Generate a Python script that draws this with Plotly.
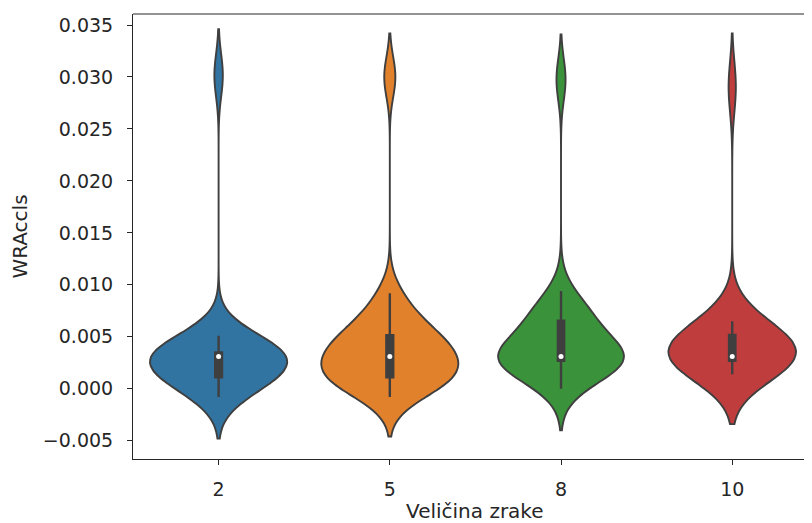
import numpy as np
import plotly.graph_objects as go

categories = ["2", "5", "8", "10"]

vals_2 = [-0.0008, -0.0004, -0.0001, 0.0002, 0.0004, 0.0006, 0.0007, 0.0008, 0.0009, 0.0010,
          0.0011, 0.0011, 0.0013, 0.0015, 0.0017, 0.0019, 0.0021, 0.0023, 0.0025, 0.0027,
          0.0029, 0.0031, 0.0032, 0.0032, 0.0033, 0.0033, 0.0033, 0.0034, 0.0034, 0.0034,
          0.0035, 0.0035, 0.0035, 0.0037, 0.0039, 0.0041, 0.0043, 0.0046, 0.0048, 0.0049,
          0.0051, 0.0297, 0.0306]

vals_5 = [-0.0008, -0.0004, -0.0001, 0.0002, 0.0004, 0.0006, 0.0007, 0.0008, 0.0009, 0.0010,
          0.0011, 0.0011, 0.0013, 0.0015, 0.0017, 0.0019, 0.0022, 0.0024, 0.0026, 0.0028,
          0.0030, 0.0031, 0.0033, 0.0035, 0.0037, 0.0039, 0.0041, 0.0043, 0.0045, 0.0047,
          0.0049, 0.0050, 0.0052, 0.0055, 0.0058, 0.0062, 0.0067, 0.0073, 0.0081, 0.0086,
          0.0092, 0.0296, 0.0304]

vals_8 = [0.0000, 0.0005, 0.0009, 0.0013, 0.0016, 0.0019, 0.0021, 0.0023, 0.0025, 0.0026,
          0.0027, 0.0027, 0.0028, 0.0028, 0.0029, 0.0029, 0.0029, 0.0030, 0.0030, 0.0030,
          0.0031, 0.0031, 0.0032, 0.0034, 0.0036, 0.0039, 0.0042, 0.0046, 0.0050, 0.0055,
          0.0060, 0.0064, 0.0066, 0.0067, 0.0069, 0.0071, 0.0073, 0.0076, 0.0080, 0.0086,
          0.0094, 0.0294, 0.0301]

vals_10 = [0.0014, 0.0016, 0.0018, 0.0020, 0.0022, 0.0023, 0.0024, 0.0025, 0.0026, 0.0026,
           0.0027, 0.0027, 0.0028, 0.0028, 0.0029, 0.0029, 0.0029, 0.0030, 0.0030, 0.0030,
           0.0031, 0.0031, 0.0033, 0.0035, 0.0037, 0.0039, 0.0041, 0.0043, 0.0045, 0.0047,
           0.0049, 0.0051, 0.0052, 0.0054, 0.0056, 0.0058, 0.0059, 0.0060, 0.0062, 0.0063,
           0.0065, 0.0287, 0.0294]

y_tick_vals = [-0.005, 0.000, 0.005, 0.010, 0.015, 0.020, 0.025, 0.030, 0.035]
y_tick_text = ["\u22120.005", "0.000", "0.005", "0.010", "0.015", "0.020", "0.025", "0.030", "0.035"]

x_title = "Veličina zrake"
y_title = "WRAccls"

series = [vals_2, vals_5, vals_8, vals_10]
colors = ["#3274a1", "#e1812c", "#3a923a", "#c03d3e"]
bandwidths = [0.0020, 0.0019, 0.0020, 0.0024]
widths = [0.80, 0.80, 0.735, 0.745]

EDGE = "#3f3f3f"
TEXT = "#262626"
FONT = "DejaVu Sans"

fig = go.Figure()
for cat, vals, col, bw, w in zip(categories, series, colors, bandwidths, widths):
    fig.add_trace(go.Violin(
        x=[cat] * len(vals), y=vals, name=cat,
        fillcolor=col, opacity=1,
        line=dict(color=EDGE, width=1.9),
        bandwidth=bw, spanmode="soft", scalemode="width", width=w,
        points=False,
        box=dict(visible=True, width=0.05, fillcolor=EDGE, line=dict(color=EDGE, width=2.4)),
        meanline=dict(visible=False),
        hoverinfo="skip", showlegend=False,
    ))

fig.add_trace(go.Scatter(
    x=categories, y=[float(np.median(v)) for v in series],
    mode="markers", marker=dict(color="white", size=5, line=dict(width=0)),
    hoverinfo="skip", showlegend=False,
))

fig.update_layout(
    width=804, height=515,
    margin=dict(l=125, r=0, t=6, b=64, autoexpand=False),
    paper_bgcolor="white", plot_bgcolor="white",
    font=dict(family=FONT, size=19, color=TEXT),
    violinmode="overlay",
    shapes=[dict(type="line", xref="paper", yref="paper", x0=0, x1=1, y0=1, y1=1,
                 line=dict(color=TEXT, width=1))],
    annotations=[dict(text=x_title, xref="paper", yref="paper", x=0.5037, y=-0.117,
                      xanchor="center", yanchor="middle", showarrow=False,
                      font=dict(family=FONT, size=20, color=TEXT))],
)
fig.update_xaxes(
    type="category", categoryorder="array", categoryarray=categories,
    range=[-0.5, 3.466], automargin=False,
    showgrid=False, zeroline=False,
    showline=True, linecolor=TEXT, linewidth=1,
    ticks="outside", ticklen=5, tickwidth=1, tickcolor=TEXT,
    ticklabelstandoff=8,
    tickfont=dict(family=FONT, size=19, color=TEXT),
)
fig.update_yaxes(
    range=[-0.00676, 0.03606], automargin=False,
    tickmode="array", tickvals=y_tick_vals, ticktext=y_tick_text,
    showgrid=False, zeroline=False,
    showline=True, linecolor=TEXT, linewidth=1,
    ticks="outside", ticklen=5, tickwidth=1, tickcolor=TEXT,
    ticklabelstandoff=10,
    tickfont=dict(family=FONT, size=19, color=TEXT),
    title=dict(text=y_title, font=dict(family=FONT, size=20, color=TEXT), standoff=12),
)

fig.write_html("out.html")
